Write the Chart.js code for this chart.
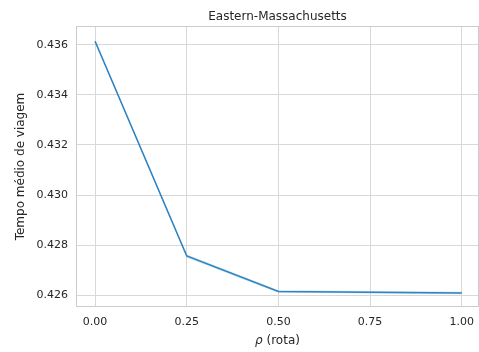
<!DOCTYPE html>
<html lang="en">
<head>
  <meta charset="UTF-8" />
  <title>Eastern-Massachusetts</title>
  <script src="https://cdn.jsdelivr.net/npm/chart.js"></script>
  <style>
    html, body { margin: 0; padding: 0; background: #fff; }
    #wrap { width: 479px; height: 352px; }
  </style>
</head>
<body>
  <div id="wrap"><canvas id="chart"></canvas></div>
  <script>
    const rho = [0, 0.25, 0.5, 0.75, 1.0];
    const meanTime = [0.43615, 0.42756, 0.42614, 0.42611, 0.42608];
    const lowerBand = [0.43611, 0.42750, 0.42609, 0.42606, 0.42603];
    const upperBand = [0.43619, 0.42762, 0.42619, 0.42616, 0.42613];
    const xTicks = [0, 0.25, 0.5, 0.75, 1.0];
    const yTicks = [0.426, 0.428, 0.430, 0.432, 0.434, 0.436];
    const chartTitle = 'Eastern-Massachusetts';
    const xSymbol = 'ρ';
    const xLabelRest = ' (rota)';

    const pts = arr => rho.map((x, i) => ({ x, y: arr[i] }));
    const txt = '#262626';
    const gridCol = '#d8d8d8';

    // frame round the plot area, title centred over the axes, x label with italic rho
    const frame = {
      id: 'frame',
      afterDraw(chart) {
        const a = chart.chartArea, c = chart.ctx;
        const cx = (a.left + a.right) / 2;
        c.save();
        c.strokeStyle = '#cccccc';
        c.lineWidth = 1;
        c.strokeRect(a.left + 0.5, a.top + 0.5, a.width - 1, a.height - 1);
        c.fillStyle = txt;
        c.textBaseline = 'alphabetic';
        c.font = '12px "DejaVu Sans"';
        c.textAlign = 'center';
        c.fillText(chartTitle, cx, a.top - 6);

        c.textAlign = 'left';
        c.font = 'italic 12px "DejaVu Sans"';
        const w1 = c.measureText(xSymbol).width;
        c.font = '12px "DejaVu Sans"';
        const w2 = c.measureText(xLabelRest).width;
        const x0 = cx - (w1 + w2) / 2;
        const yb = a.bottom + 37;
        c.font = 'italic 12px "DejaVu Sans"';
        c.fillText(xSymbol, x0, yb);
        c.font = '12px "DejaVu Sans"';
        c.fillText(xLabelRest, x0 + w1, yb);
        c.restore();
      }
    };

    new Chart(document.getElementById('chart'), {
      type: 'line',
      data: {
        datasets: [
          { data: pts(lowerBand), borderWidth: 0, pointRadius: 0, fill: false },
          { data: pts(upperBand), borderWidth: 0, pointRadius: 0, fill: '-1',
            backgroundColor: 'rgba(47,132,196,0.25)' },
          { data: pts(meanTime), borderColor: '#2f84c4', borderWidth: 1.6,
            pointRadius: 0, fill: false, tension: 0 }
        ]
      },
      options: {
        responsive: true,
        maintainAspectRatio: false,
        animation: false,
        layout: { padding: { left: 10, right: 0, top: 26, bottom: 0 } },
        plugins: {
          legend: { display: false },
          tooltip: { enabled: false },
          title: { display: false }
        },
        scales: {
          x: {
            type: 'linear',
            min: -0.052,
            max: 1.047,
            afterBuildTicks: s => { s.ticks = xTicks.map(v => ({ value: v })); },
            afterFit: s => { s.height = 45; s.paddingLeft = 0; s.paddingRight = 0; },
            ticks: {
              color: txt, padding: 9,
              font: { family: 'DejaVu Sans', size: 11 },
              callback: v => v.toFixed(2)
            },
            grid: { color: gridCol, drawTicks: false },
            border: { display: false },
            title: { display: false }
          },
          y: {
            min: 0.42552,
            max: 0.43676,
            afterBuildTicks: s => { s.ticks = yTicks.map(v => ({ value: v })); },
            afterFit: s => { s.width = 66; s.paddingTop = 0; s.paddingBottom = 0; },
            ticks: {
              color: txt, padding: 8,
              font: { family: 'DejaVu Sans', size: 11 },
              callback: v => v.toFixed(3)
            },
            grid: { color: gridCol, drawTicks: false },
            border: { display: false },
            title: {
              display: true, text: 'Tempo médio de viagem', color: txt,
              font: { family: 'DejaVu Sans', size: 12 },
              padding: { bottom: 4 }
            }
          }
        }
      },
      plugins: [frame]
    });
  </script>
</body>
</html>
